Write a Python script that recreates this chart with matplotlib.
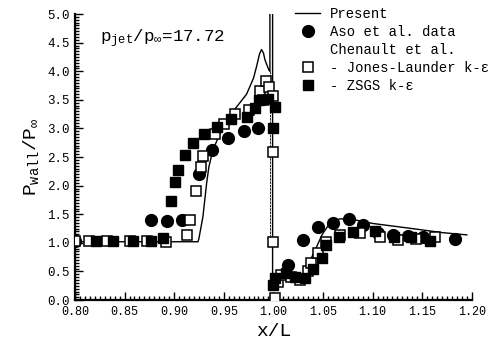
import matplotlib
matplotlib.use("Agg")
import matplotlib.pyplot as plt
from matplotlib.lines import Line2D
from matplotlib.ticker import MultipleLocator

plt.rcParams['font.family'] = ['Liberation Mono', 'DejaVu Sans']
plt.rcParams['mathtext.fontset'] = 'custom'
plt.rcParams['mathtext.rm'] = 'Liberation Mono'
plt.rcParams['mathtext.it'] = 'Liberation Mono'

# Present computation (solid line), with the jet location near x/L = 1
present_x = [0.80, 0.924, 0.925, 0.929, 0.9327, 0.935, 0.939, 0.9495, 0.9595, 0.973,
             0.980, 0.983, 0.986, 0.988, 0.990, 0.9915, 0.9937, 0.9955, 0.9965, 0.9965,
             0.9992, 0.9992, 1.002, 1.006, 1.015, 1.025, 1.030, 1.035, 1.042, 1.049,
             1.057, 1.067, 1.080, 1.100, 1.140, 1.170, 1.195]
present_y = [1.02, 1.02, 1.08, 1.46, 2.04, 2.33, 2.62, 3.05, 3.30, 3.60,
             3.88, 4.08, 4.30, 4.38, 4.32, 4.20, 4.10, 4.02, 4.00, 5.10,
             5.10, 0.30, 0.35, 0.45, 0.43, 0.40, 0.45, 0.62, 0.87, 1.14,
             1.35, 1.42, 1.41, 1.34, 1.25, 1.18, 1.14]
jet_x = [0.9965, 0.9965]
jet_y = [4.00, 1.00]

# Aso et al. data (filled circles)
aso_x = [0.800, 0.877, 0.893, 0.908, 0.925, 0.938, 0.954, 0.970, 0.985,
         1.015, 1.030, 1.045, 1.060, 1.076, 1.0905, 1.1056, 1.1207, 1.136, 1.151, 1.183]
aso_y = [1.04, 1.40, 1.39, 1.40, 2.20, 2.62, 2.83, 2.95, 3.01,
         0.61, 1.05, 1.27, 1.35, 1.41, 1.31, 1.18, 1.14, 1.12, 1.11, 1.06]

# Chenault et al. - Jones-Launder k-eps (open squares)
jl_x = [0.800, 0.814, 0.832, 0.855, 0.873, 0.892, 0.913, 0.916, 0.922, 0.927,
        0.929, 0.941, 0.950, 0.961, 0.975, 0.987, 0.990, 0.9925, 0.9955, 0.9998,
        1.000, 1.000, 1.002, 1.005, 1.008, 1.018, 1.0265, 1.035, 1.038, 1.045,
        1.0535, 1.067, 1.087, 1.107, 1.1257, 1.144, 1.1627]
jl_y = [1.03, 1.03, 1.03, 1.03, 1.03, 1.01, 1.14, 1.40, 1.90, 2.33,
        2.52, 2.91, 3.08, 3.25, 3.32, 3.66, 3.50, 3.83, 3.72, 3.57,
        2.58, 1.02, 0.03, 0.32, 0.44, 0.41, 0.35, 0.50, 0.64, 0.82,
        1.02, 1.14, 1.17, 1.11, 1.05, 1.06, 1.10]

# Chenault et al. - ZSGS k-eps (filled squares)
zs_x = [0.821, 0.838, 0.859, 0.877, 0.889, 0.897, 0.901, 0.904, 0.911, 0.919,
        0.930, 0.943, 0.957, 0.9736, 0.981, 0.9857, 0.995, 1.0015, 1.000,
        1.000, 1.0015, 1.013, 1.022, 1.032, 1.040, 1.0485, 1.0535, 1.066, 1.0805,
        1.102, 1.122, 1.139, 1.158]
zs_y = [1.03, 1.03, 1.03, 1.03, 1.09, 1.74, 2.07, 2.28, 2.53, 2.74,
        2.90, 3.03, 3.16, 3.20, 3.35, 3.50, 3.51, 3.38, 3.00,
        0.26, 0.38, 0.47, 0.41, 0.38, 0.55, 0.73, 0.96, 1.10, 1.19,
        1.21, 1.10, 1.10, 1.04]

fig = plt.figure(figsize=(5.03, 3.51), dpi=100)
ax = fig.add_axes([0.149, 0.145, 0.789, 0.815])

ax.plot(present_x, present_y, color='black', lw=1.0, zorder=2)
ax.plot(jet_x, jet_y, color='black', lw=0.6, ls=(0, (3, 1)), zorder=2)
ax.plot(aso_x, aso_y, 'o', color='black', ms=8.5, zorder=3)
ax.plot(jl_x, jl_y, 's', mfc='white', mec='black', mew=1.1, ms=6.5, zorder=4)
ax.plot(zs_x, zs_y, 's', color='black', ms=6.5, zorder=5)

ax.set_xlim(0.80, 1.20)
ax.set_ylim(0.0, 5.0)
ax.xaxis.set_major_locator(MultipleLocator(0.05))
ax.xaxis.set_minor_locator(MultipleLocator(0.005))
ax.yaxis.set_major_locator(MultipleLocator(0.5))
ax.yaxis.set_minor_locator(MultipleLocator(0.05))
ax.xaxis.set_major_formatter(plt.FormatStrFormatter('%.2f'))
ax.yaxis.set_major_formatter(plt.FormatStrFormatter('%.1f'))
ax.tick_params(which='both', direction='in', width=1.0)
ax.tick_params(which='major', length=6)
ax.tick_params(which='minor', length=3)
ax.tick_params(axis='x', labelsize=8.5, pad=4)
ax.tick_params(axis='y', labelsize=9, pad=4)
ax.spines['top'].set_visible(False)
ax.spines['right'].set_visible(False)
ax.spines['left'].set_linewidth(1.6)
ax.spines['bottom'].set_linewidth(1.6)

ax.set_xlabel('x/L', fontsize=14, labelpad=4)
ax.set_ylabel(r'P$_{\mathrm{wall}}$/P$_{\infty}$', fontsize=14, labelpad=4)

ax.text(0.062, 0.915, r'p$_{\mathrm{jet}}$/p$_{\infty}$=17.72', transform=ax.transAxes,
        fontsize=12.5, va='center', ha='left')

handles = [
    Line2D([], [], color='black', lw=1.0),
    Line2D([], [], marker='o', ls='none', color='black', ms=8.5),
    Line2D([], [], ls='none'),
    Line2D([], [], marker='s', ls='none', mfc='white', mec='black', mew=1.1, ms=6.5),
    Line2D([], [], marker='s', ls='none', color='black', ms=6.5),
]
labels = ['Present', 'Aso et al. data', 'Chenault et al.',
          '- Jones-Launder k-\u03b5', '- ZSGS k-\u03b5']
ax.legend(handles, labels, loc='upper left', bbox_to_anchor=(0.53, 1.06),
          frameon=False, fontsize=10, handlelength=1.8, handletextpad=0.7,
          labelspacing=0.3, borderpad=0.2)

fig.savefig('out.png', dpi=100)
